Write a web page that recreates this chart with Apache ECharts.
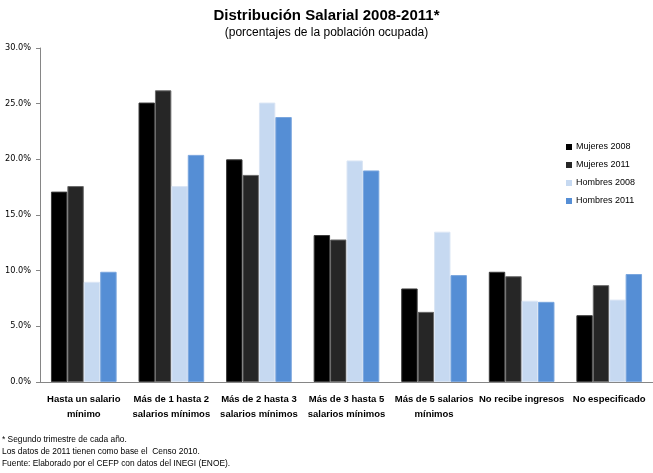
<!DOCTYPE html>
<html>
<head>
<meta charset="utf-8">
<script src="https://cdn.jsdelivr.net/npm/echarts@6/dist/echarts.min.js"></script>
<style>
  html, body { margin: 0; padding: 0; background: #fff; }
  #chart { width: 653px; height: 473px; }
</style>
</head>
<body>
<div id="chart"></div>
<script>
// Salary distribution categories (two-line labels)
var categories = [
  'Hasta un salario\nmínimo',
  'Más de 1 hasta 2\nsalarios mínimos',
  'Más de 2 hasta 3\nsalarios mínimos',
  'Más de 3 hasta 5\nsalarios mínimos',
  'Más de 5 salarios\nmínimos',
  'No recibe ingresos',
  'No especificado'
];

var seriesNames = ['Mujeres 2008', 'Mujeres 2011', 'Hombres 2008', 'Hombres 2011'];

// Percent of the employed population
var mujeres2008 = [17.1, 25.1, 20.0, 13.2, 8.4, 9.9, 6.0];
var mujeres2011 = [17.6, 26.2, 18.6, 12.8, 6.3, 9.5, 8.7];
var hombres2008 = [9.0, 17.6, 25.1, 19.9, 13.5, 7.3, 7.4];
var hombres2011 = [9.9, 20.4, 23.8, 19.0, 9.6, 7.2, 9.7];

var yTicks = [0, 5, 10, 15, 20, 25, 30];

var footnotes = [
  '* Segundo trimestre de cada año.',
  'Los datos de 2011 tienen como base el  Censo 2010.',
  'Fuente: Elaborado por el CEFP con datos del INEGI (ENOE).'
];

var fills = ['#000000', '#262626', '#c6d9f1', '#558ed5'];
var borders = ['#3a3a3a', '#6a6a6a', '#dbe6f5', '#7aa6de'];
var values = [mujeres2008, mujeres2011, hombres2008, hombres2011];

var chart = echarts.init(document.getElementById('chart'));

var series = seriesNames.map(function (name, i) {
  return {
    name: name,
    type: 'bar',
    data: values[i],
    barGap: '0%',
    barCategoryGap: '25%',
    itemStyle: { color: fills[i], borderColor: borders[i], borderWidth: 1 }
  };
});

var font = '"Liberation Sans", Arial, sans-serif';

chart.setOption({
  animation: false,
  title: [
    {
      text: 'Distribución Salarial 2008-2011*',
      left: 'center', top: 3,
      textStyle: { fontFamily: font, fontSize: 15, fontWeight: 'bold', color: '#000' }
    },
    {
      text: '(porcentajes de la población ocupada)',
      left: 'center', top: 22,
      textStyle: { fontFamily: font, fontSize: 12, fontWeight: 'normal', color: '#000' }
    }
  ],
  legend: {
    orient: 'vertical',
    left: 561, top: 137.5,
    itemWidth: 6, itemHeight: 6,
    itemGap: 9,
    icon: 'rect',
    itemStyle: { borderWidth: 0 },
    textStyle: { fontFamily: font, fontSize: 9, color: '#000', padding: [0, 0, 0, -1] },
    data: seriesNames
  },
  graphic: footnotes.map(function (t, i) {
    return {
      type: 'text',
      left: 2, top: 436 + i * 11.7,
      style: { text: t, fill: '#000', font: '8.4px ' + font }
    };
  }),
  grid: { left: 40, right: 0, top: 48, bottom: 91, containLabel: false },
  xAxis: {
    type: 'category',
    data: categories,
    axisLine: { lineStyle: { color: '#868686', width: 1 } },
    axisTick: { show: false },
    axisLabel: {
      interval: 0,
      margin: 10,
      fontFamily: font, fontSize: 9.5, fontWeight: 'bold', color: '#000',
      lineHeight: 15
    }
  },
  yAxis: {
    type: 'value',
    min: yTicks[0], max: yTicks[yTicks.length - 1], interval: 5,
    splitLine: { show: false },
    axisLine: { show: true, lineStyle: { color: '#868686', width: 1 } },
    axisTick: { show: true, length: 4, lineStyle: { color: '#868686' } },
    axisLabel: {
      fontFamily: '"DejaVu Sans", Verdana, sans-serif', fontSize: 8.2, color: '#000', margin: 9,
      formatter: function (v) { return v.toFixed(1) + '%'; }
    }
  },
  series: series
});
</script>
</body>
</html>
